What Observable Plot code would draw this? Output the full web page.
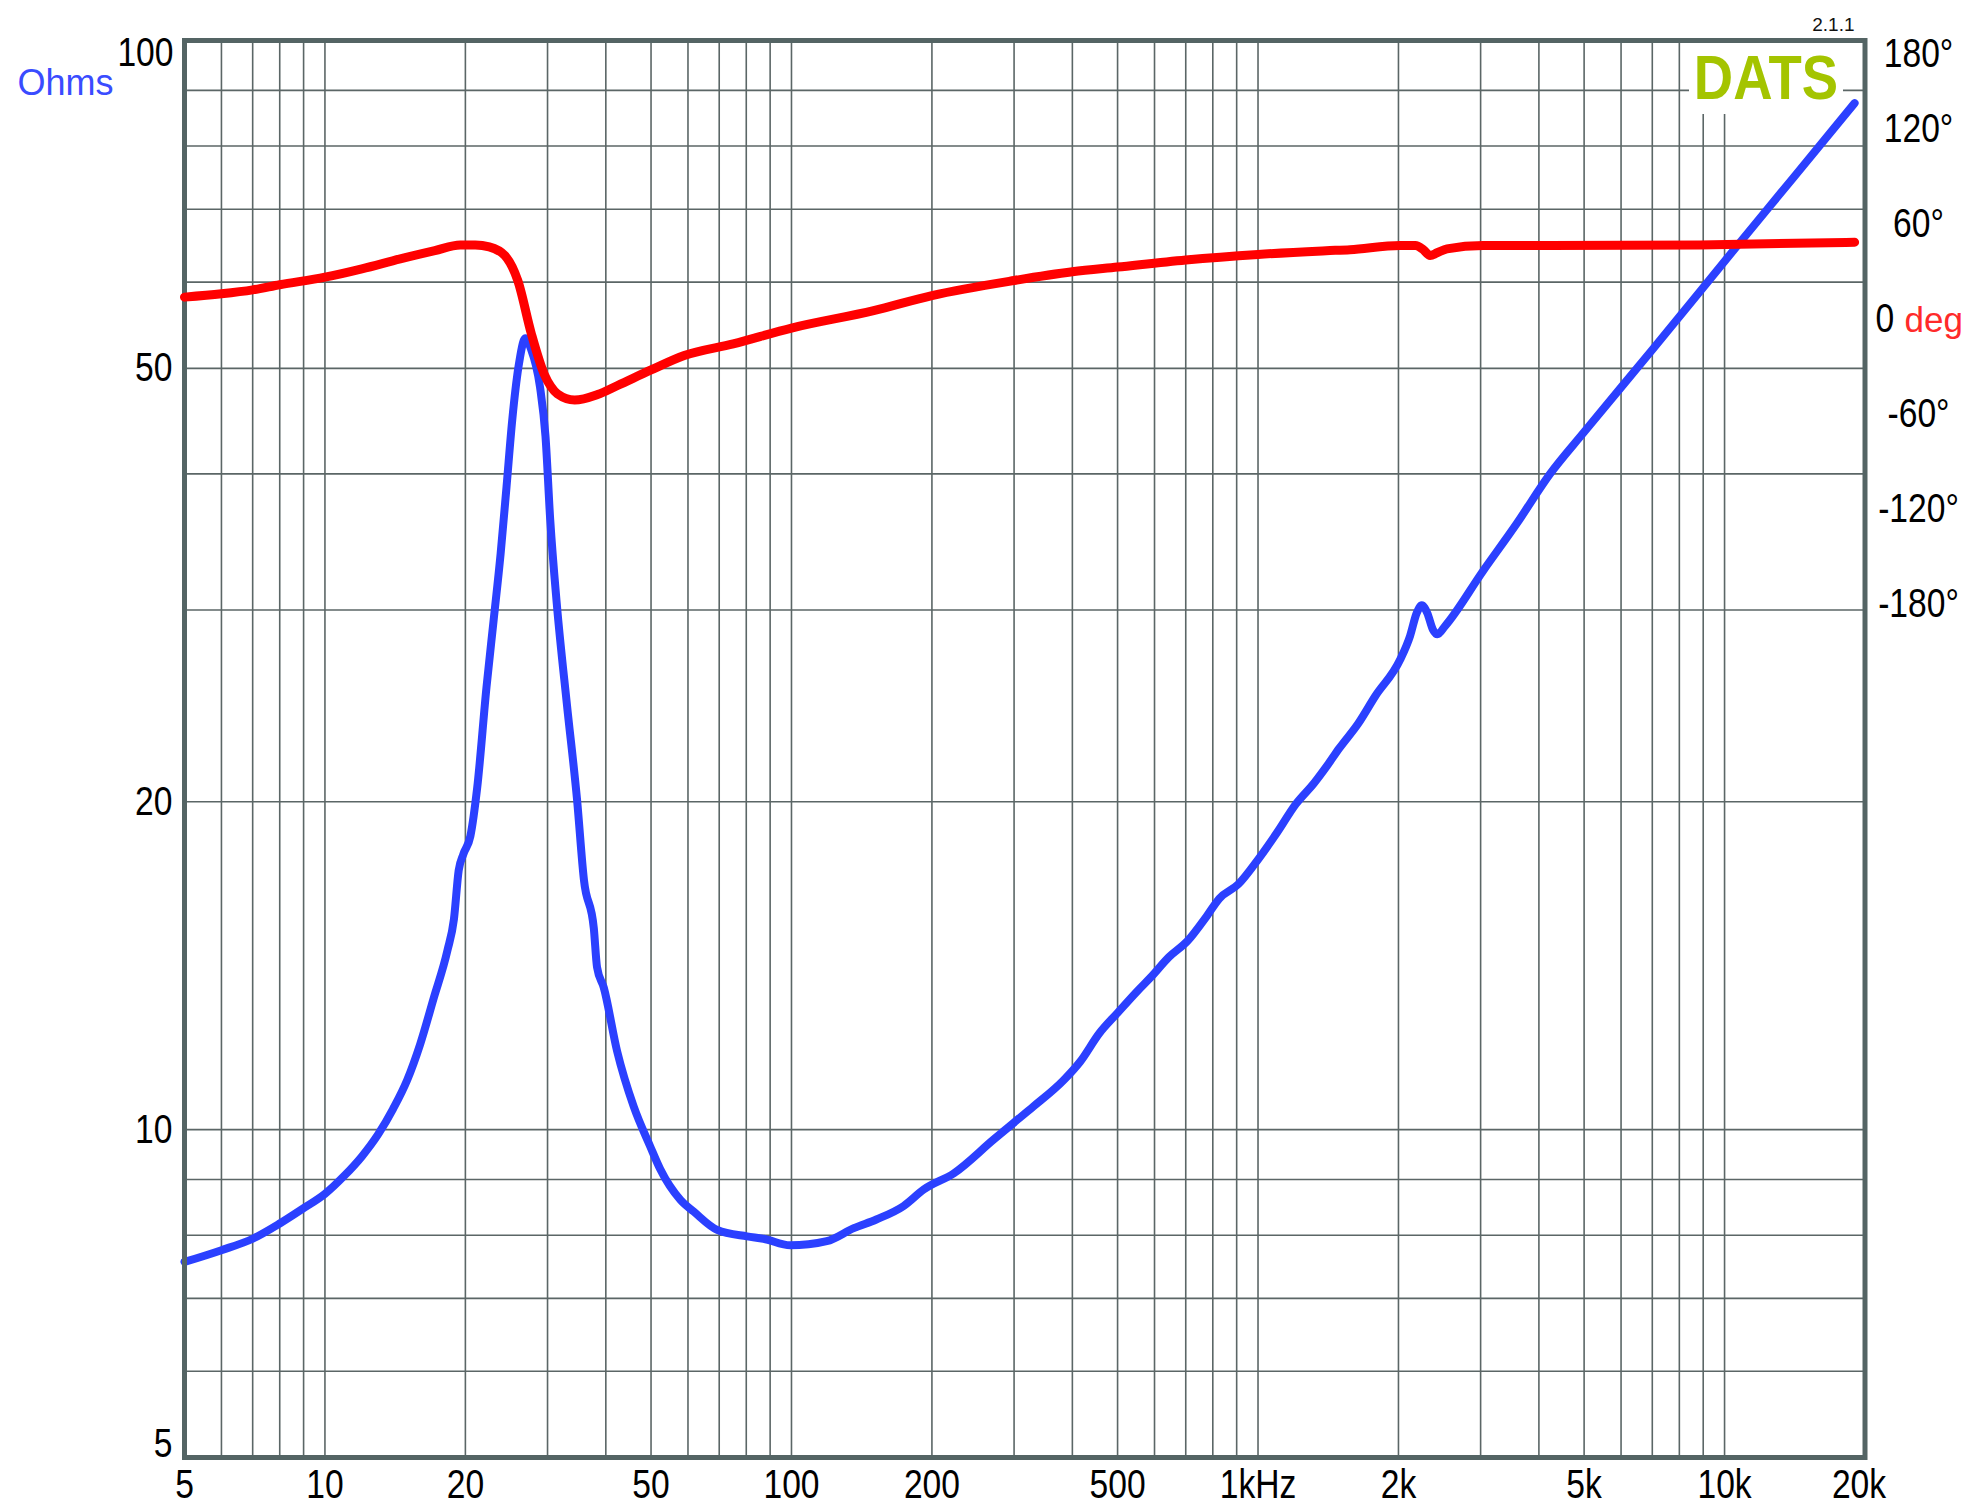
<!DOCTYPE html>
<html>
<head>
<meta charset="utf-8">
<script src="https://cdn.jsdelivr.net/npm/d3@7"></script>
<script src="https://cdn.jsdelivr.net/npm/@observablehq/plot@0.6"></script>
<style>
  html, body { margin: 0; padding: 0; background: #ffffff; }
  #chart { position: relative; width: 1981px; height: 1512px; overflow: hidden; background: #ffffff; }
  #chart > .layer { position: absolute; left: 0; top: 0; }
  #logo { position: absolute; left: 1689px; top: 43px; width: 154px; height: 71px; background: #ffffff; }
  #logo svg { overflow: visible; display: block; }
</style>
</head>
<body>
<div id="chart"></div>
<script>
// ---------------- data ----------------
const impFreq = [5, 6, 7, 8, 9, 10, 11, 12, 13, 14, 15, 16, 17.1, 18.3, 18.9, 19.35, 19.8, 20.5, 21.2, 22.2, 23.0, 23.8, 24.5, 25.2, 26.0, 26.9, 27.6, 28.9, 29.7, 30.4, 31.4, 33.0, 34.7, 35.9, 37.7, 38.3, 39.6, 42.3, 45.9, 49.8, 52.3, 57.8, 61.7, 69.3, 80.3, 87.1, 99.4, 119, 136, 152, 174, 192, 223, 271, 299, 330, 383, 416, 457, 500, 551, 589, 644, 706, 776, 826, 907, 1000, 1095, 1205, 1318, 1408, 1494, 1640, 1783, 2016, 2118, 2188, 2244, 2306, 2369, 2424, 2517, 3039, 3583, 4226, 5000, 7000, 10900, 14000, 19000];
const impOhms = [7.56, 7.75, 7.94, 8.2, 8.47, 8.73, 9.07, 9.45, 9.9, 10.45, 11.1, 11.98, 13.2, 14.6, 15.6, 17.3, 17.9, 18.6, 20.6, 25.5, 29.4, 33.8, 38.9, 44.8, 50.2, 53.3, 52.2, 48.1, 43.3, 36.3, 30.4, 24.6, 20.1, 16.96, 15.3, 14.1, 13.5, 11.8, 10.5, 9.65, 9.2, 8.62, 8.41, 8.09, 7.98, 7.94, 7.83, 7.9, 8.12, 8.27, 8.51, 8.81, 9.12, 9.79, 10.14, 10.5, 11.1, 11.55, 12.26, 12.8, 13.4, 13.8, 14.4, 14.9, 15.7, 16.3, 16.8, 17.7, 18.7, 19.9, 20.8, 21.6, 22.4, 23.6, 25.0, 27.0, 28.4, 29.8, 30.3, 29.8, 28.8, 28.5, 29.0, 32.6, 36.0, 40.0, 43.7, 52.0, 65.6, 74.7, 87.6];

const phaseFreq = [5, 6, 7, 8, 10, 12, 14.5, 17.2, 19.5, 21, 22.5, 24.3, 25.9, 27.7, 29.5, 30.5, 31.5, 34.3, 38.4, 42.4, 50, 58.9, 75, 100, 150, 200, 300, 400, 500, 700, 1000, 1400, 1575, 2016, 2175, 2260, 2338, 2420, 2541, 3039, 4226, 8860, 19000];
const phaseDeg = [13.5, 15.6, 18.1, 21.3, 26.1, 31.4, 37.7, 42.9, 46.5, 46.5, 45.3, 39.8, 24.0, -9.7, -35.0, -43.0, -47.6, -51.5, -48.0, -42.3, -32.5, -23.4, -16.0, -6.0, 5.0, 14.5, 24.0, 29.5, 32.5, 37.0, 40.5, 42.8, 43.5, 46.1, 46.1, 43.5, 39.8, 41.5, 44.0, 46.1, 46.1, 46.5, 48.2];

const xGridHz = [5, 6, 7, 8, 9, 10, 20, 30, 40, 50, 60, 70, 80, 90, 100, 200, 300, 400, 500, 600, 700, 800, 900, 1000, 2000, 3000, 4000, 5000, 6000, 7000, 8000, 9000, 10000];
const yGridOhms = [5, 6, 7, 8, 9, 10, 20, 30, 40, 50, 60, 70, 80, 90, 100];

const xTickHz = [5, 10, 20, 50, 100, 200, 500, 1000, 2000, 5000, 10000];
const xTickLabels = ["5", "10", "20", "50", "100", "200", "500", "1kHz", "2k", "5k", "10k"];
const xLastTick = [20000];
const xLastLabel = ["20k"];
const yTickOhms = [50, 20, 10];
const yTopTick = [100];
const yBottomTick = [5];
const phaseTicks = [120, 60, -60, -120, -180];
const phaseTopLabel = ["180°"];
const phaseZero = [0];

// ---------------- layout / style ----------------
const W = 1981, H = 1512;
const M = {marginLeft: 184, marginRight: 116.5, marginTop: 40, marginBottom: 55};
// "Liberation Sans Narrow" is used as a marker: the texts using it are condensed below
const NARROW = "'Liberation Sans Narrow', 'Liberation Sans', Arial, sans-serif";
const SANS = "'Liberation Sans', Arial, sans-serif";
const CONDENSE = 0.82;
const GRID = "#5b6666";
const FRAME = "#546464";
const BLUE = "#2b40ff";
const RED = "#ff0000";

const xScale = {type: "log", domain: [5, 20000], axis: null};
const impY = {type: "log", domain: [5, 100], axis: null};
const phaseY = {type: "linear", domain: [-719.4, 175.6], axis: null};

const impData = impFreq.map((f, i) => ({f, z: impOhms[i]}));
const phaseData = phaseFreq.map((f, i) => ({f, p: phaseDeg[i]}));
const xLabel = new Map(xTickHz.map((d, i) => [d, xTickLabels[i]]));
const xLastLabelMap = new Map(xLastTick.map((d, i) => [d, xLastLabel[i]]));

const base = {width: W, height: H, ...M, style: {background: "transparent", color: "black", overflow: "visible"}};

// Layer A: grid
const layerA = Plot.plot({
  ...base,
  x: xScale, y: impY,
  marks: [
    Plot.ruleX(xGridHz, {stroke: GRID, strokeWidth: 1.6}),
    Plot.ruleY(yGridOhms, {stroke: GRID, strokeWidth: 1.6})
  ]
});

// Layer B: impedance curve, frame and axes
const layerB = Plot.plot({
  ...base,
  x: xScale, y: impY,
  marks: [
    Plot.line(impData, {x: "f", y: "z", stroke: BLUE, strokeWidth: 8, curve: "monotone-x", strokeLinecap: "round", strokeLinejoin: "round"}),
    Plot.frame({stroke: FRAME, strokeWidth: 5}),
    Plot.axisX(xTickHz, {anchor: "bottom", tickSize: 0, tickPadding: 11, tickFormat: d => xLabel.get(d), fontSize: 41, fontFamily: NARROW, label: null}),
    Plot.axisX(xLastTick, {anchor: "bottom", tickSize: 0, tickPadding: 11, dx: -6, tickFormat: d => xLastLabelMap.get(d), fontSize: 41, fontFamily: NARROW, label: null}),
    Plot.axisY(yTickOhms, {anchor: "left", tickSize: 0, tickPadding: 12, fontSize: 41, fontFamily: NARROW, label: null}),
    Plot.axisY(yTopTick, {anchor: "left", tickSize: 0, tickPadding: 11, dy: 12, fontSize: 41, fontFamily: NARROW, label: null}),
    Plot.axisY(yBottomTick, {anchor: "left", tickSize: 0, tickPadding: 12, dy: -14, fontSize: 41, fontFamily: NARROW, label: null}),
    Plot.text(["Ohms"], {text: d => d, frameAnchor: "top-left", dx: -119, dy: 43, textAnchor: "middle", lineAnchor: "middle", fill: "#3a4cff", fontSize: 36, fontFamily: SANS}),
    Plot.text(["2.1.1"], {text: d => d, frameAnchor: "top-right", dx: -10.5, dy: -16, textAnchor: "end", lineAnchor: "middle", fill: "#111", fontSize: 19, fontFamily: SANS})
  ]
});

// Layer C: phase curve and right axis
const layerC = Plot.plot({
  ...base,
  x: xScale, y: phaseY,
  marks: [
    Plot.line(phaseData, {x: "f", y: "p", stroke: RED, strokeWidth: 9, curve: "monotone-x", strokeLinecap: "round", strokeLinejoin: "round"}),
    Plot.axisY(phaseTicks, {anchor: "right", tickSize: 0, tickPadding: 53.5, textAnchor: "middle", tickFormat: d => String(d).replace("\u2212", "-") + "°", fontSize: 41, fontFamily: NARROW, label: null}),
    Plot.axisY(phaseZero, {anchor: "right", tickSize: 0, tickPadding: 10.5, textAnchor: "start", tickFormat: d => String(d), fontSize: 41, fontFamily: NARROW, label: null}),
    Plot.text(phaseZero, {y: d => d, text: () => "deg", frameAnchor: "right", dx: 39.5, dy: 2, textAnchor: "start", lineAnchor: "middle", fill: "#ff2a2a", fontSize: 35, fontFamily: SANS}),
    Plot.text(phaseTopLabel, {text: d => d, frameAnchor: "top-right", dx: 53.5, dy: 13, textAnchor: "middle", lineAnchor: "middle", fill: "black", fontSize: 41, fontFamily: NARROW})
  ]
});

// condense the narrow-font texts horizontally around their anchor point
// (only the horizontal position is moved into the transform; y and its em offsets stay as they are)
function condense(svg, ratio) {
  svg.querySelectorAll("text").forEach(t => {
    const holder = t.closest("[font-family]");
    const fam = holder ? holder.getAttribute("font-family") : "";
    if (!fam || !fam.includes("Narrow")) return;
    let tr = t.getAttribute("transform") || "";
    const x = t.getAttribute("x");
    let shift = 0;
    if (x != null && isFinite(+x)) { shift = +x; }
    tr += ` translate(${shift},0) scale(${ratio},1) translate(${-shift},0)`;
    t.setAttribute("transform", tr.trim());
  });
}
[layerB, layerC].forEach(s => condense(s, CONDENSE));

const chart = document.getElementById("chart");
layerA.classList.add("layer");
chart.appendChild(layerA);

const logo = document.createElement("div");
logo.id = "logo";
logo.innerHTML = '<svg width="154" height="71" xmlns="http://www.w3.org/2000/svg"><rect width="154" height="71" fill="#ffffff"/>' +
  '<text transform="translate(77,55.5) scale(0.865,1)" text-anchor="middle" fill="#a4c400" font-weight="bold" font-size="63" font-family="Liberation Sans, Arial, sans-serif">DATS</text></svg>';
chart.appendChild(logo);

for (const el of [layerB, layerC]) { el.classList.add("layer"); chart.appendChild(el); }
</script>
</body>
</html>
